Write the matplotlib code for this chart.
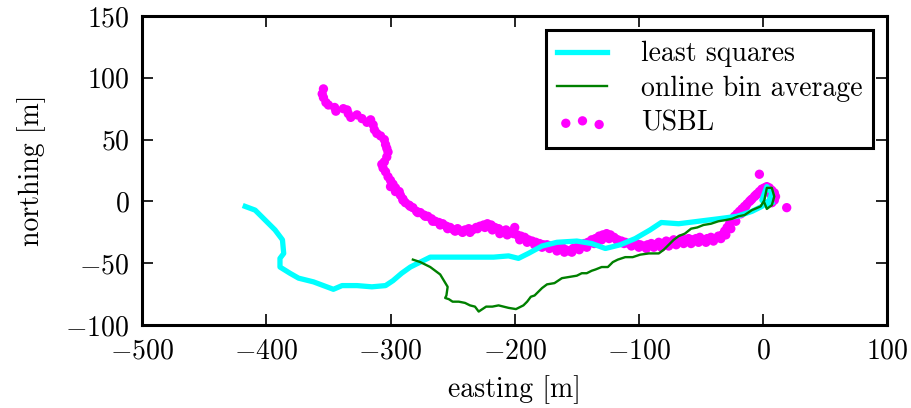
import matplotlib
matplotlib.use("Agg")
import matplotlib.pyplot as plt

plt.rcParams['font.family'] = ['cmr10', 'DejaVu Serif']
plt.rcParams['mathtext.fontset'] = 'cm'
plt.rcParams['axes.formatter.use_mathtext'] = True
plt.rcParams['font.size'] = 20

# least squares track
ls_x = [-417, -409, -401, -393, -387, -386, -389, -389, -381, -374, -362, -354, -346,
        -339, -327, -315, -304, -298, -291, -284, -276, -268, -248, -229, -217, -205,
        -197, -189, -178, -166, -150, -138, -127, -115, -103, -91, -82, -68, -52, -36,
        -21, -9, -1, 5, 7, 3, -1, 3, 7]
ls_y = [-4, -7, -15, -23, -31, -42, -46, -53, -58, -62, -65, -68, -71,
        -68, -68, -69, -68, -64, -58, -53, -49, -45, -45, -45, -45, -44,
        -46, -42, -36, -33, -32, -34, -38, -35, -30, -23, -17, -18, -16, -14,
        -12, -8, -4, 1, 7, 12, 1, -3, -1]

# online bin average track
bin_x = [-282, -276, -268, -260, -254, -255, -256, -253, -250, -245, -240, -236, -232,
         -229, -226, -223, -218, -213, -209, -205, -199, -193, -190, -187, -184, -181,
         -178, -174, -168, -162, -156, -150, -146, -142, -138, -135, -130, -125, -121,
         -117, -111, -105, -99, -92, -84, -80, -76, -72, -68, -63, -58, -53, -48, -42,
         -36, -30, -25, -20, -15, -9, -2, 1, 3, 7, 9, 7, 3, 1]
bin_y = [-47, -49, -53, -59, -69, -76, -78, -79, -81, -81, -82, -84, -85,
         -89, -87, -85, -85, -84, -85, -86, -87, -84, -81, -77, -76, -73,
         -70, -67, -66, -62, -61, -60, -58, -58, -56, -55, -53, -53, -49,
         -47, -45, -45, -43, -42, -42, -39, -35, -31, -28, -26, -22, -21, -19, -18,
         -16, -15, -14, -12, -11, -7, -4, 1, 11, 11, 4, -3, -6, -1]

# USBL fixes
usbl_x = [-354, -355, -354, -352, -350, -345, -344, -338, -335, -334, -332, -327, -323,
          -319, -316, -314, -313, -311, -308, -305, -304, -303, -302, -303, -305, -307,
          -306, -304, -302, -300, -298, -296, -293, -292, -290, -288, -285, -282, -279,
          -276, -273, -270, -267, -264, -261, -258, -255, -252, -249, -246, -243, -240,
          -237, -234, -231, -228, -225, -222, -219, -216, -213, -210, -207, -204, -200,
          -201, -198, -195, -192, -189, -186, -183, -180, -177, -174, -171, -168, -165,
          -162, -159, -156, -153, -150, -147, -144, -141, -138, -135, -132, -129, -126,
          -123, -120, -117, -114, -111, -108, -105, -102, -99, -96, -93, -90, -87, -84,
          -81, -78, -75, -72, -69, -66, -63, -60, -57, -54, -51, -48, -45, -42, -39,
          -36, -33, -31, -29, -27, -25, -23, -21, -19, -17, -15, -13, -11, -9, -7, -5,
          -3, -1, 1, 3, 5, 7, 9, 10, 9, 7, -3, 19,
          -300, -296, -290, -284, -278, -272, -266, -260, -254, -248, -242, -236, -230,
          -224, -218, -212, -206, -196, -190, -184, -178, -172, -166, -160, -154, -148,
          -142, -136, -130, -124, -118, -112, -106, -100, -94, -88, -82, -76, -70,
          -64, -58, -52, -46, -40, -34, -30, -26, -22, -18, -14, -10, -6, -2, 2, 6]
usbl_y = [91, 87, 84, 80, 78, 76, 73, 75, 74, 71, 68, 70, 67,
          64, 66, 62, 58, 55, 53, 50, 46, 43, 40, 36, 32, 30,
          27, 24, 20, 17, 14, 11, 8, 5, 2, -1, -3, -5, -8,
          -9, -11, -12, -14, -16, -17, -18, -20, -21, -23, -22, -24, -23,
          -22, -23, -21, -20, -19, -18, -19, -21, -22, -24, -23, -25, -21,
          -26, -27, -28, -29, -31, -32, -33, -34, -35, -35, -36, -37, -38,
          -37, -39, -40, -38, -37, -35, -34, -33, -31, -30, -28, -27, -26,
          -27, -29, -31, -32, -33, -34, -35, -34, -35, -36, -35, -34, -35, -33,
          -34, -32, -33, -31, -32, -30, -31, -30, -31, -30, -29, -31, -30, -29, -30,
          -28, -27, -24, -21, -18, -15, -12, -10, -8, -6, -4, -2, 0, 2, 4, 6,
          8, 10, 11, 12, 11, 9, 7, 4, 1, -1, 22, -5,
          12, 8, 1, -4, -9, -12, -16, -19, -22, -24, -25, -25, -22,
          -21, -23, -26, -27, -31, -33, -35, -37, -38, -40, -41, -41, -39,
          -37, -34, -31, -30, -31, -34, -36, -37, -38, -37, -37, -36, -35,
          -34, -34, -33, -33, -32, -30, -27, -22, -16, -10, -4, 1, 5, 8, 9, 6]

fig, ax = plt.subplots(figsize=(9.11, 4.08), dpi=100)
fig.subplots_adjust(left=0.156, right=0.974, bottom=0.203, top=0.961)

ax.plot(ls_x, ls_y, color='cyan', lw=3.8, label='least squares')
ax.plot(bin_x, bin_y, color='green', lw=1.7, label='online bin average')
ax.scatter(usbl_x, usbl_y, s=45, color='magenta', edgecolors='none', label='USBL')

ax.set_xlim(-500, 100)
ax.set_ylim(-100, 150)
ax.set_xticks([-500, -400, -300, -200, -100, 0, 100])
ax.set_yticks([-100, -50, 0, 50, 100, 150])
ax.set_xlabel('easting [m]', labelpad=8)
ax.set_ylabel('northing [m]', labelpad=14)

for sp in ax.spines.values():
    sp.set_linewidth(2.2)
ax.tick_params(direction='in', length=8, width=1.2, top=True, right=True, pad=9)

leg = ax.legend(loc='upper right', scatterpoints=3, scatteryoffsets=[0.375, 0.5, 0.3125],
                fancybox=False, framealpha=1, edgecolor='black', borderaxespad=0.5,
                handlelength=1.8, handletextpad=1.2, labelspacing=0.3, borderpad=0.4)
leg.get_frame().set_linewidth(2.2)

fig.savefig('out.png', dpi=100)
